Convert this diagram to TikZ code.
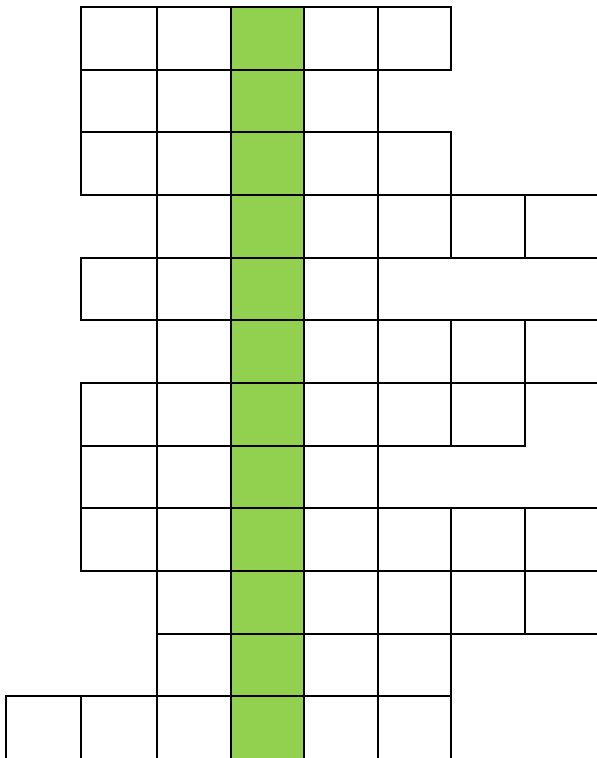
\documentclass[tikz,border=0pt]{standalone}
\usepackage{xcolor}
\definecolor{solgreen}{RGB}{146,208,80}

\begin{document}
\begin{tikzpicture}[
        x=1pt, y=-1pt,
        cell/.style={draw=black, line width=2pt},
        answer/.style={fill=solgreen}
    ]
    \useasboundingbox (0,0) rectangle (597,758);
    \clip (0,0) rectangle (597,758);

    % green solution column
    \fill[answer] (231,7) rectangle (304,762);

    % rows of the grid: row / occupied columns
    \foreach \r/\cols in {0/{1,2,3,4,5}, 1/{1,2,3,4}, 2/{1,2,3,4,5},
                          3/{2,3,4,5,6,7}, 4/{1,2,3,4}, 5/{2,3,4,5,6,7},
                          6/{1,2,3,4,5,6}, 7/{1,2,3,4}, 8/{1,2,3,4,5,6,7},
                          9/{2,3,4,5,6,7}, 10/{2,3,4,5}, 11/{0,1,2,3,4,5}} {
        \foreach \c in \cols {
            \pgfmathsetmacro{\xa}{{6,81,157,231,304,378,451,525,601}[\c]}
            \pgfmathsetmacro{\xb}{{6,81,157,231,304,378,451,525,601}[\c+1]}
            \pgfmathsetmacro{\ya}{{7,70,132,195,258,320,383,446,508,571,634,696,762}[\r]}
            \pgfmathsetmacro{\yb}{{7,70,132,195,258,320,383,446,508,571,634,696,762}[\r+1]}
            \draw[cell] (\xa,\ya) rectangle (\xb,\yb);
        }
    }
\end{tikzpicture}
\end{document}
